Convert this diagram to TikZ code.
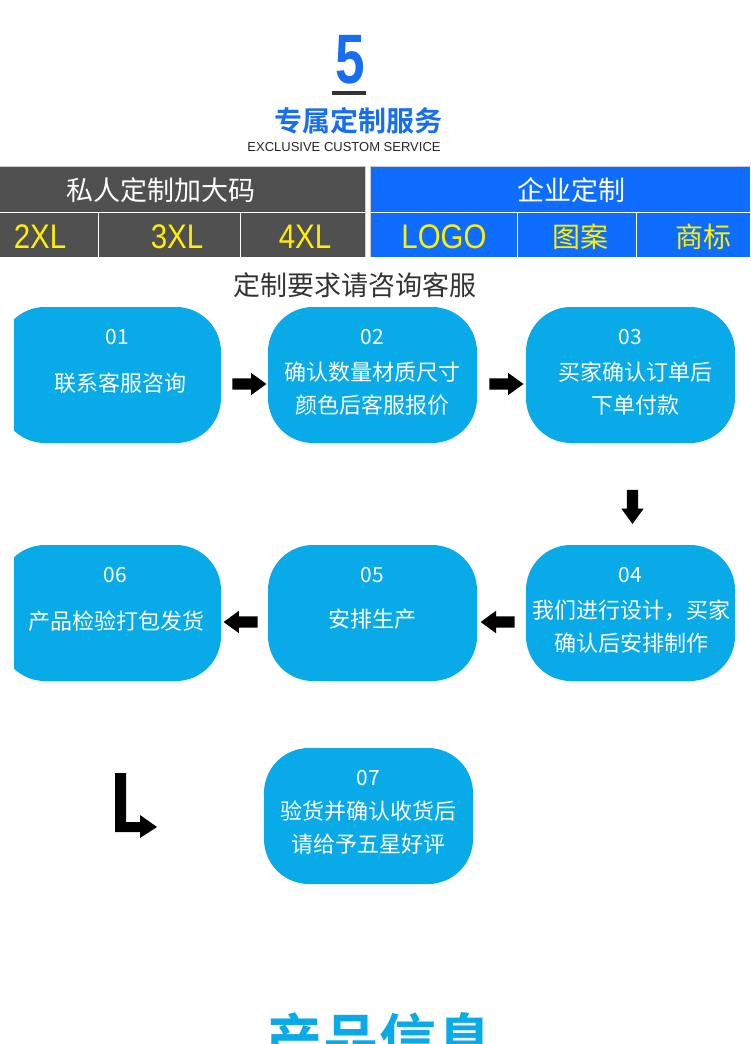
\documentclass[tikz,border=0pt]{standalone}
\usepackage{fontspec}
\setmainfont{Liberation Sans}
\newfontfamily\cjk{Noto Sans CJK SC}
\newfontfamily\cjkb{Noto Sans CJK SC Bold}
\usepackage{graphicx}
\usetikzlibrary{shapes.arrows}
\usetikzlibrary{calc}
\definecolor{boxcyan}{RGB}{8,170,232}
\definecolor{headblue}{RGB}{14,108,255}
\definecolor{titleblue}{RGB}{24,110,240}
\definecolor{tablegray}{RGB}{80,80,80}
\definecolor{tabyellow}{RGB}{255,240,0}

\begin{document}
\begin{tikzpicture}[x=1pt,y=-1pt,
   box/.style={fill=boxcyan, rounded corners=45pt, minimum width=209pt, minimum height=136pt, inner sep=0pt},
   num/.style={text=white, font=\cjk\fontsize{21}{25}\selectfont},
   txt/.style={text=white, align=center, font=\cjk\fontsize{22}{33}\selectfont},
   blockarrow/.style={single arrow, fill=black, minimum height=34pt, inner xsep=0pt, inner ysep=5.5pt,
      single arrow head extend=5.5pt, single arrow head indent=0pt, single arrow tip angle=72},
   cell/.style={text=tabyellow, font=\fontsize{31}{31}\selectfont},
   cjkcell/.style={text=tabyellow, font=\cjk\fontsize{28}{28}\selectfont},
   head/.style={text=white, font=\cjk\fontsize{27}{27}\selectfont}]
\useasboundingbox (0,0) rectangle (750,1044);
\fill[white] (0,0) rectangle (750,1044);

% title
\node[text=titleblue, font=\bfseries\fontsize{70}{70}\selectfont] (five) at (350,60) {\scalebox{0.76}[1]{5}};
\fill[black!80] (332,91) rectangle (366,95);
\node[text=titleblue, font=\cjkb\fontsize{28}{28}\selectfont] (title) at (358,121) {专属定制服务};
\node[text=black!85, font=\fontsize{13}{13}\selectfont] (subtitle) at (344,147) {EXCLUSIVE CUSTOM SERVICE};

% table
\fill[tablegray] (0,167) rectangle (365,257);
\fill[headblue] (371,167) rectangle (750,257);
\draw[gray!40] (0,166.5) -- (365.5,166.5) -- (365.5,257);
\draw[gray!40] (370.5,257) -- (370.5,166.5) -- (750,166.5);
\draw[white, line width=1.5pt] (0,212.5) -- (365,212.5) (371,212.5) -- (750,212.5);
\draw[white, line width=1pt] (98,213) -- (98,257) (240,213) -- (240,257)
            (517,213) -- (517,257) (636,213) -- (636,257);
\node[head] (private) at (161,190) {私人定制加大码};
\node[head] (company) at (571,190) {企业定制};
\node[cell] (xl2) at (40,237) {\scalebox{0.95}[1.1]{2XL}};
\node[cell] (xl3) at (177,237) {\scalebox{0.95}[1.1]{3XL}};
\node[cell] (xl4) at (305,237) {\scalebox{0.95}[1.1]{4XL}};
\node[cell] (logo) at (444,237) {\scalebox{0.95}[1.1]{LOGO}};
\node[cjkcell] (pattern) at (580,237) {图案};
\node[cjkcell] (brand) at (703,237) {商标};

\node[text=black!80, font=\cjk\fontsize{27}{27}\selectfont] (ask) at (355,285) {定制要求请咨询客服};

% steps
\begin{scope}
\clip (14,0) rectangle (750,1044);
\node[box, minimum width=221pt] (b01) at (110.5,375) {};
\node[box] (b02) at (372.5,375) {};
\node[box] (b03) at (630.5,375) {};
\node[box] (b04) at (630.5,613) {};
\node[box] (b05) at (372.5,613) {};
\node[box, minimum width=221pt] (b06) at (110.5,613) {};
\node[box] (b07) at (368.5,816) {};
\end{scope}

\node[num] (n01) at ([xshift=7pt,yshift=-30pt]b01.north) {01};
\node[txt] (t01) at ([xshift=10pt,yshift=-76pt]b01.north) {联系客服咨询};
\node[num] (n02) at ([yshift=-30pt]b02.north) {02};
\node[txt] (t02) at ([yshift=-82pt]b02.north) {确认数量材质尺寸\\颜色后客服报价};
\node[num] (n03) at ([yshift=-30pt]b03.north) {03};
\node[txt] (t03) at ([xshift=5pt,yshift=-82pt]b03.north) {买家确认订单后\\下单付款};
\node[num] (n04) at ([yshift=-30pt]b04.north) {04};
\node[txt] (t04) at ([xshift=1pt,yshift=-82pt]b04.north) {我们进行设计，买家\\确认后安排制作};
\node[num] (n05) at ([yshift=-30pt]b05.north) {05};
\node[txt] (t05) at ([yshift=-74pt]b05.north) {安排生产};
\node[num] (n06) at ([xshift=5pt,yshift=-30pt]b06.north) {06};
\node[txt] (t06) at ([xshift=6pt,yshift=-76pt]b06.north) {产品检验打包发货};
\node[num] (n07) at ([yshift=-30pt]b07.north) {07};
\node[txt] (t07) at ([yshift=-80pt]b07.north) {验货并确认收货后\\请给予五星好评};

% arrows
\node[blockarrow] (a12) at ($(b01.east)!0.5!(b02.west)+(1,9)$) {};
\node[blockarrow] (a23) at ($(b02.east)!0.5!(b03.west)+(1,9)$) {};
\node[blockarrow, rotate=-90] (a34) at ($(b03.south)!0.5!(b04.north)+(2,9)$) {};
\node[blockarrow, rotate=180] (a45) at ($(b05.east)!0.5!(b04.west)+(0,9)$) {};
\node[blockarrow, rotate=180] (a56) at ($(b06.east)!0.5!(b05.west)+(0,9)$) {};
\fill[black] (115,773) -- (126,773) -- (126,822) -- (140,822) -- (140,815) -- (157,827)
   -- (140,838) -- (140,832) -- (115,832) -- cycle;

% next section
\node[text=boxcyan, font=\cjkb\fontsize{57}{57}\selectfont, anchor=north, inner sep=0pt] (info) at (379,1012) {产品信息};
\end{tikzpicture}
\end{document}
